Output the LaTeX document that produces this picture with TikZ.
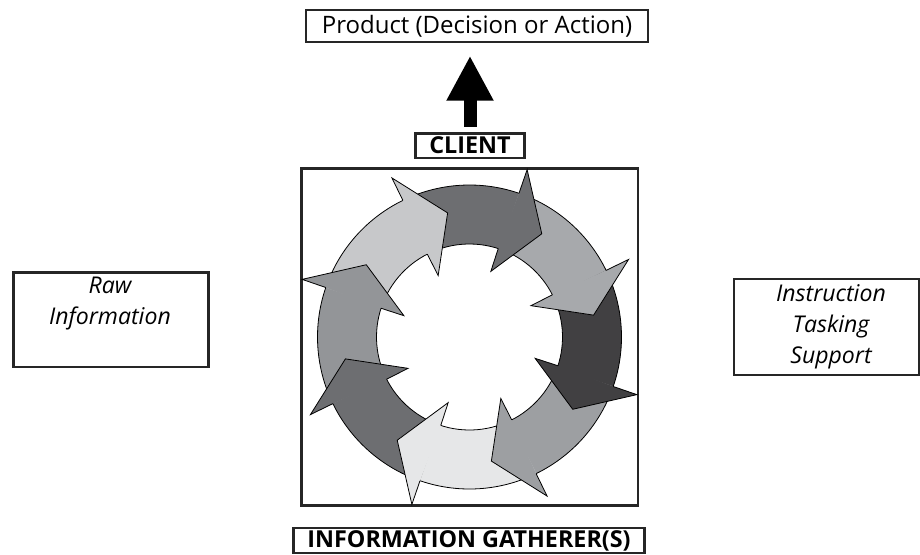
\documentclass[tikz,border=0pt]{standalone}
\usepackage{fontspec}
\setmainfont{Open Sans}
\usetikzlibrary{arrows.meta, positioning, calc}

\definecolor{ringA}{HTML}{6D6E71}
\definecolor{ringB}{HTML}{A7A9AC}
\definecolor{ringC}{HTML}{414042}
\definecolor{ringD}{HTML}{9D9FA2}
\definecolor{ringE}{HTML}{E6E7E8}
\definecolor{ringF}{HTML}{6D6E71}
\definecolor{ringG}{HTML}{939598}
\definecolor{ringH}{HTML}{C7C8CA}

\begin{document}
\begin{tikzpicture}[x=0.75pt, y=-0.75pt,
		box/.style={draw=black!85, line width=1.9pt, inner sep=0pt},
		sidetext/.style={inner sep=0pt, align=center, font=\fontsize{17.3}{23.25}\selectfont\itshape},
		boldtext/.style={font=\fontsize{17.5}{20}\selectfont\bfseries},
		bigarrow/.style={line width=9.75pt, -{Triangle[width=33pt, length=33.75pt]}},
		outline/.style={line width=0.6pt}]
		\useasboundingbox (0,0) rectangle (920,554);
		% boxes
		\node[box, minimum width=256.2pt, minimum height=23.7pt, font=\fontsize{18}{20}\selectfont] (product) at (477,26) {Product (Decision or Action)};
		\node[box, minimum width=81.4pt, minimum height=18.4pt, boldtext] (client) at (470,145.5) {CLIENT};
		\node[box, minimum width=252.4pt, minimum height=253.1pt] (frame) at (469.5,337) {};
		\node[box, minimum width=263.6pt, minimum height=18.5pt, boldtext] (gatherer) at (469,540.5) {INFORMATION GATHERER(S)};
		\node[box, minimum width=146.6pt, minimum height=70.9pt] (rawbox) at (111,319.5) {};
		\node[box, minimum width=138.5pt, minimum height=71.7pt] (taskbox) at (826.5,327) {};
		\node[sidetext, anchor=north] (rawtext) at (110,277) {Raw\\Information};
		\node[sidetext, anchor=north] (tasktext) at (831,284) {Instruction\\Tasking\\Support};
		% arrow up to the product
		\coordinate (tip) at (client.north |- product.south);
		\draw[bigarrow] ([yshift=3.75pt]client.north) -- ([yshift=-9.5pt]tip);
		% the cycle
		\begin{scope}[shift={(469.5,337)}, yscale=-1]
			\foreach \i/\col in {0/ringA, 1/ringB, 2/ringC, 3/ringD, 4/ringE, 5/ringF, 6/ringG, 7/ringH} {
				\pgfmathsetmacro\t{55-45*\i}
				\fill[\col] (\t+13:152) arc[start angle=\t+13, end angle=\t+61, radius=152] -- (\t+61:93) arc[start angle=\t+61, end angle=\t+13, radius=93] -- cycle;
				\draw[outline] (\t+13:152) arc[start angle=\t+13, end angle=\t+61, radius=152];
				\draw[outline] (\t+13:93) arc[start angle=\t+13, end angle=\t+61, radius=93];
			}
			\foreach \i/\col in {0/ringA, 1/ringB, 2/ringC, 3/ringD, 4/ringE, 5/ringF, 6/ringG, 7/ringH} {
				\pgfmathsetmacro\t{55-45*\i}
				\filldraw[outline, fill=\col] (\t+16:152) -- (\t+16:177) -- (\t:126) -- (\t+17:69) -- (\t+17:93);
			}
		\end{scope}
	\end{tikzpicture}
\end{document}
